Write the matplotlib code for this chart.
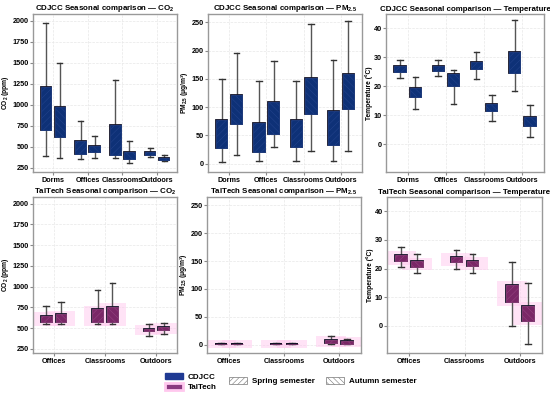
import matplotlib
matplotlib.use("Agg")
import matplotlib.pyplot as plt
import matplotlib.patheffects as pe
from matplotlib.patches import Patch, Rectangle

plt.rcParams['font.family'] = ['Liberation Sans', 'DejaVu Sans']
plt.rcParams['font.weight'] = 'bold'
plt.rcParams['mathtext.fontset'] = 'custom'
plt.rcParams['mathtext.rm'] = 'Liberation Sans:bold'
plt.rcParams['mathtext.bf'] = 'Liberation Sans:bold'
plt.rcParams['mathtext.default'] = 'bf'
plt.rcParams['hatch.linewidth'] = 0.4

# categories
cdj_sites = ['Dorms', 'Offices', 'Classrooms', 'Outdoors']
tal_sites = ['Offices', 'Classrooms', 'Outdoors']

# box stats per site: (whislo, q1, median, q3, whishi)
cdj_co2_spring = [(390, 700, 910, 1210, 1970), (350, 415, 490, 570, 810),
                  (370, 405, 550, 765, 1290), (380, 400, 420, 440, 485)]
cdj_co2_autumn = [(370, 615, 790, 970, 1500), (370, 440, 475, 515, 625),
                  (310, 350, 395, 440, 570), (330, 345, 355, 370, 400)]
cdj_pm_spring = [(3, 28, 49, 77, 149), (4, 20, 40, 71, 146),
                 (4, 30, 51, 77, 146), (4, 32, 57, 93, 183)]
cdj_pm_autumn = [(15, 70, 96, 121, 196), (29, 53, 83, 109, 182),
                 (23, 87, 124, 151, 247), (23, 96, 130, 159, 253)]
cdj_t_spring = [(23, 25, 26, 27, 29), (23.5, 25.3, 26, 27, 29),
                (22.5, 26, 27.2, 28.5, 32), (18.3, 24.5, 28, 32, 43)]
cdj_t_autumn = [(12.3, 16.5, 17.8, 19.5, 23.3), (14, 20, 22.5, 24.3, 25.8),
                (8.2, 11.5, 12.7, 14, 17.2), (2.5, 6.5, 7.8, 9.3, 13.5)]

tal_co2_spring = [(555, 570, 600, 645, 770), (555, 570, 610, 725, 960),
                  (410, 460, 480, 495, 550)]
tal_co2_autumn = [(555, 570, 610, 665, 810), (550, 570, 620, 760, 1045),
                  (430, 475, 495, 510, 565)]
tal_pm_spring = [(0.3, 0.8, 1.2, 1.8, 2.5), (0.3, 0.8, 1.2, 1.8, 2.5),
                 (1, 3, 5, 8, 15)]
tal_pm_autumn = [(0.3, 0.8, 1.2, 1.8, 2.5), (0.3, 0.8, 1.2, 1.8, 2.5),
                 (0.5, 2, 4, 6, 10)]
tal_t_spring = [(20.4, 22.7, 23.8, 24.8, 27.6), (19.8, 22.3, 23.2, 24.2, 26.6),
                (0, 8.2, 11.9, 14.2, 22.4)]
tal_t_autumn = [(18.3, 20.7, 21.7, 22.5, 25), (18.5, 20.8, 21.7, 22.8, 25.2),
                (-6.4, 1.7, 4.9, 7.0, 14.9)]

CDJ_COLOR = '#0e3177'
CDJ_EDGE = '#22428a'
TAL_COLOR = '#7a2767'
TAL_EDGE = '#93427f'
PINK = '#ffc8ee'

co2_label = 'CO$_2$ (ppm)'
pm_label = 'PM$_{2.5}$ (μg/m³)'
t_label = 'Temperature (°C)'


def stats(rows):
    return [dict(whislo=r[0], q1=r[1], med=r[2], q3=r[3], whishi=r[4], fliers=[]) for r in rows]


def panel(ax, sites, spring, autumn, color, edge, off, width, pink, title, ylabel, ylim, yticks):
    xs = list(range(1, len(sites) + 1))
    for rows, sign, hatch in [(spring, -1, '/////'), (autumn, 1, '\\\\\\\\\\')]:
        pos = [x + sign * off for x in xs]
        if pink:
            for p, r in zip(pos, rows):
                pad = (ylim[1] - ylim[0]) * 0.025
                ax.add_patch(Rectangle((p - width * 1.3, r[1] - pad), width * 2.6,
                                       r[3] - r[1] + 2 * pad, facecolor=PINK,
                                       alpha=0.5, edgecolor='none', zorder=1))
        b = ax.bxp(stats(rows), positions=pos, widths=width, patch_artist=True,
                   showfliers=False,
                   boxprops=dict(facecolor=color, edgecolor=edge, linewidth=0.5, hatch=hatch),
                   medianprops=dict(color='black', linewidth=1.4),
                   whiskerprops=dict(color='#555555', linewidth=1.0),
                   capprops=dict(color='#333333', linewidth=1.0),
                   capwidths=width * 0.5)
        for bx in b['boxes']:
            bx.set_zorder(3)
            bx.set_path_effects([pe.Stroke(linewidth=1.3, foreground='#141428'), pe.Normal()])
    ax.set_xticks(xs)
    ax.set_xticklabels(sites, fontsize=5.2, fontweight='bold')
    m = 0.57 if len(sites) == 4 else 0.4
    ax.set_xlim(xs[0] - m, xs[-1] + m)
    ax.set_ylim(*ylim)
    ax.set_yticks(yticks)
    ax.tick_params(axis='y', labelsize=5.2, length=2, color='#888888', pad=1)
    ax.tick_params(axis='x', length=2, color='#888888', pad=1.5)
    for t in ax.get_yticklabels():
        t.set_fontweight('bold')
    ax.set_title(title, fontsize=5.7, fontweight='bold', pad=2.5)
    ax.set_ylabel(ylabel, fontsize=4.8, fontweight='bold', labelpad=0.8)
    ax.grid(True, color='#e8e8e8', linewidth=0.5, linestyle='--')
    ax.set_axisbelow(True)
    for s in ax.spines.values():
        s.set_color('#999999')
        s.set_linewidth(1.0)


fig = plt.figure(figsize=(5.5, 3.95), dpi=100)
W, H = 550, 395


def box(l, t, r, b):
    return fig.add_axes([l / W, 1 - b / H, (r - l) / W, (b - t) / H])


co2_ticks = [250, 500, 750, 1000, 1250, 1500, 1750, 2000]
pm_ticks = [0, 50, 100, 150, 200, 250]
t_ticks = [0, 10, 20, 30, 40]

a1 = box(33, 14, 177, 172)
panel(a1, cdj_sites, cdj_co2_spring, cdj_co2_autumn, CDJ_COLOR, CDJ_EDGE, 0.2, 0.3, False,
      'CDJCC Seasonal comparison — CO$_2$', co2_label, (200, 2080), co2_ticks)
a2 = box(208, 14, 362, 172)
panel(a2, cdj_sites, cdj_pm_spring, cdj_pm_autumn, CDJ_COLOR, CDJ_EDGE, 0.2, 0.3, False,
      'CDJCC Seasonal comparison — PM$_{2.5}$', pm_label, (-15, 265), pm_ticks)
a3 = box(386, 14, 544, 172)
panel(a3, cdj_sites, cdj_t_spring, cdj_t_autumn, CDJ_COLOR, CDJ_EDGE, 0.2, 0.3, False,
      'CDJCC Seasonal comparison — Temperature', t_label, (-9.5, 45), t_ticks)

b1 = box(33, 197, 177, 353)
panel(b1, tal_sites, tal_co2_spring, tal_co2_autumn, TAL_COLOR, TAL_EDGE, 0.145, 0.21, True,
      'TalTech Seasonal comparison — CO$_2$', co2_label, (200, 2080), co2_ticks)
b2 = box(207, 197, 361, 353)
panel(b2, tal_sites, tal_pm_spring, tal_pm_autumn, TAL_COLOR, TAL_EDGE, 0.145, 0.21, True,
      'TalTech Seasonal comparison — PM$_{2.5}$', pm_label, (-15, 265), pm_ticks)
b3 = box(387, 197, 542, 353)
panel(b3, tal_sites, tal_t_spring, tal_t_autumn, TAL_COLOR, TAL_EDGE, 0.145, 0.21, True,
      'TalTech Seasonal comparison — Temperature', t_label, (-9.5, 45), t_ticks)

site_handles = [Patch(facecolor='#1f3a93', edgecolor='#1f3a93', label='CDJCC'),
                Patch(facecolor='#8a3a80', edgecolor=PINK, linewidth=2, label='TalTech')]
season_handles = [Patch(facecolor='white', edgecolor='#777777', hatch='//////', linewidth=0.5,
                        label='Spring semester'),
                  Patch(facecolor='white', edgecolor='#777777', hatch='\\\\\\\\\\\\', linewidth=0.5,
                        label='Autumn semester')]
fig.legend(handles=site_handles, loc='center left', bbox_to_anchor=(158 / W, 1 - 382 / H),
           frameon=False, handlelength=2.2, handleheight=0.9,
           labelspacing=0.3, handletextpad=0.6, prop=dict(weight='bold', size=5.8))
fig.legend(handles=season_handles, loc='center left', bbox_to_anchor=(222 / W, 1 - 381 / H),
           ncol=2, frameon=False, handlelength=2.2, handleheight=0.9,
           columnspacing=1.4, handletextpad=0.6, prop=dict(weight='bold', size=5.8))

fig.savefig('out.png', dpi=100)
